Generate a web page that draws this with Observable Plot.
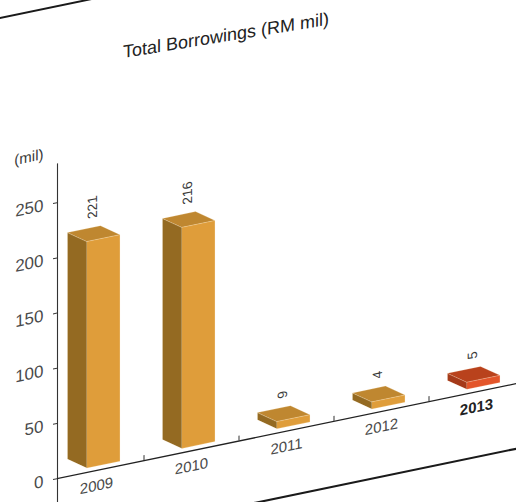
<!DOCTYPE html>
<html><head><meta charset="utf-8">
<script src="https://cdn.jsdelivr.net/npm/d3@7"></script>
<script src="https://cdn.jsdelivr.net/npm/@observablehq/plot@0.6"></script>
<style>
html,body{margin:0;padding:0;background:#fff;overflow:hidden;width:516px;height:502px;}
#wrap{position:relative;width:516px;height:502px;overflow:hidden;}
#chart{position:absolute;left:0;top:0;}
#chart svg{transform-origin:0 0;transform:skewY(-11.7deg);display:block;}
#title{position:absolute;left:0;top:0;}
</style></head><body>
<div id="wrap"><div id="chart"></div>
<svg id="title" width="516" height="110"><text id="titleText" x="123" y="78" transform="skewY(-9.2)" font-family="'Liberation Sans', Arial, sans-serif" font-size="18" fill="#222"></text></svg>
</div>
<script>
// ---- data ----
const years = ["2009", "2010", "2011", "2012", "2013"];
const borrowings = [221, 216, 9, 4, 5];
const highlightYear = "2013";
const yTicks = [0, 50, 100, 150, 200, 250];
const chartTitle = "Total Borrowings (RM mil)";
const unitLabel = "(mil)";

// ---- styling ----
const gold = {front: "#DF9D3A", side: "#946A22", top: "#BF8730"};
const red = {front: "#E3552A", side: "#A53A1A", top: "#B9421C"};

document.getElementById("titleText").textContent = chartTitle;

const rows = years.map((year, i) => ({year, i, value: borrowings[i], hi: year === highlightYear}));

// 3D box geometry (in scale units)
const FRONT_L = -0.1, FRONT_W = 0.347, DEPTH_X = 0.205, DEPTH_Y = 11.8, BASE = 4, MIN_T = 6.5;
const faces = [];
rows.forEach(d => {
  const pal = d.hi ? red : gold;
  const ft = Math.max(d.value - DEPTH_Y, BASE + MIN_T);
  d.backTop = ft + DEPTH_Y;
  const xl = d.i + FRONT_L, xr = xl + FRONT_W, bx = xl - DEPTH_X;
  const add = (name, color, pts) => pts.forEach(([x, y]) => faces.push({id: d.year + name, x, y, color}));
  add("side", pal.side, [[xl, BASE], [xl, ft], [bx, ft + DEPTH_Y], [bx, BASE + DEPTH_Y]]);
  add("top", pal.top, [[xl, ft], [xr, ft], [xr - DEPTH_X, ft + DEPTH_Y], [bx, ft + DEPTH_Y]]);
  add("front", pal.front, [[xl, BASE], [xr, BASE], [xr, ft], [xl, ft]]);
});

const boundaries = years.slice(1).map((_, i) => i + 0.5);
const AXIS_X = -0.4105, LEFT_X = -1.1, RIGHT_X = 4.6;
const TOP_LINE = 428, BOTTOM_LINE = -59;

const plot = Plot.plot({
  width: 516, height: 620,
  marginLeft: 57, marginRight: 0, marginTop: 150, marginBottom: 130,
  x: {type: "linear", domain: [0, 4], range: [96, 476], axis: null},
  y: {domain: [0, 250], range: [490, 214], axis: null},
  color: {type: "identity"},
  style: {fontFamily: "'Liberation Sans', Arial, sans-serif", background: "transparent", overflow: "visible", color: "#333"},
  marks: [
    Plot.ruleY([TOP_LINE], {x1: LEFT_X, x2: RIGHT_X, stroke: "#1a1a1a", strokeWidth: 2}),
    Plot.ruleY([BOTTOM_LINE], {x1: LEFT_X, x2: RIGHT_X, stroke: "#1a1a1a", strokeWidth: 2.2}),
    Plot.ruleX([AXIS_X], {y1: -40, y2: 285, stroke: "#333", strokeWidth: 1.1}),
    Plot.ruleY([0], {x1: AXIS_X, x2: RIGHT_X, stroke: "#222", strokeWidth: 1.3}),
    Plot.ruleX(boundaries, {y1: 0, y2: 4.5, stroke: "#333"}),
    Plot.axisY({ticks: yTicks, tickSize: 4, tickPadding: 10, fontSize: 17, fill: "#4a4a4a", stroke: "#333"}),
    Plot.text([unitLabel], {frameAnchor: "top-left", textAnchor: "end", dx: -14, dy: 7, fontSize: 15, fill: "#3a3a3a"}),
    Plot.line(faces, {x: "x", y: "y", z: "id", fill: "color", stroke: "#fff3d6", strokeOpacity: 0.35, strokeWidth: 0.6, curve: "linear-closed"}),
    Plot.text(rows, {x: "i", y: "backTop", text: d => String(d.value), rotate: -90, textAnchor: "start", dx: -4, dy: -9, fontSize: 13.5, fill: "#3a3a3a"}),
    Plot.text(rows.filter(d => !d.hi), {x: "i", y: 0, text: "year", dy: 15.5, fontSize: 15, fill: "#4a4a4a"}),
    Plot.text(rows.filter(d => d.hi), {x: "i", y: 0, text: "year", dy: 15.5, fontSize: 15, fontWeight: "bold", fill: "#222"})
  ]
});
document.getElementById("chart").appendChild(plot);
</script>
</body></html>
